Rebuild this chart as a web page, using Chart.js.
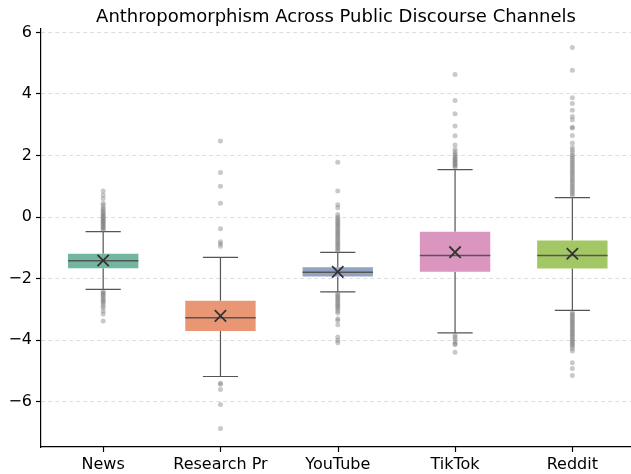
<!DOCTYPE html>
<html>
<head>
<meta charset="utf-8">
<script src="https://cdn.jsdelivr.net/npm/chart.js@4.4.1/dist/chart.umd.min.js"></script>
<style>
    html, body { margin: 0; padding: 0; background: #fff; }
    #wrap { width: 631px; height: 474px; }
</style>
</head>
<body>
<div id="wrap"><canvas id="boxChart"></canvas></div>
<script>
// Box plot summary values
const categories = ['News', 'Research Pr', 'YouTube', 'TikTok', 'Reddit'];
const q1 = [-1.66, -3.70, -1.93, -1.78, -1.67];
const q3 = [-1.19, -2.72, -1.63, -0.48, -0.76];
const medians = [-1.42, -3.27, -1.79, -1.25, -1.25];
const means = [-1.41, -3.21, -1.78, -1.14, -1.19];
const whiskerLow = [-2.35, -5.18, -2.43, -3.76, -3.03];
const whiskerHigh = [-0.47, -1.31, -1.15, 1.54, 0.63];
const yTicks = [-6, -4, -2, 0, 2, 4, 6];

// Outliers per channel
const newsOutliers = [-0.42, -0.38, -0.34, -0.3, -0.26, -0.22, -0.18, -0.14, -0.1, -0.06, -0.02, 0.02, 0.06, 0.1, 0.15, 0.2, 0.25, 0.3, 0.38, 0.45, 0.6, 0.72, 0.85,
    -2.42, -2.46, -2.5, -2.55, -2.6, -2.65, -2.7, -2.75, -2.8, -2.88, -2.95, -3.05, -3.15, -3.38];
const researchOutliers = [2.47, 1.45, 1.0, 0.45, -0.38, -0.8, -0.87, -0.95,
    -5.4, -5.43, -5.6, -6.09, -6.87];
const youtubeOutliers = [-1.1, -1.05, -1.0, -0.95, -0.9, -0.85, -0.8, -0.75, -0.7, -0.65, -0.6, -0.55, -0.5, -0.45, -0.4, -0.35, -0.3, -0.25, -0.2, -0.15, -0.1, -0.05, 0.0, 0.08, 0.3, 0.4, 0.85, 1.78,
    -2.48, -2.53, -2.58, -2.63, -2.68, -2.73, -2.78, -2.83, -2.88, -2.93, -2.98, -3.05, -3.12, -3.3, -3.36, -3.5, -3.9, -4.0, -4.08];
const tiktokOutliers = [1.62, 1.66, 1.7, 1.74, 1.78, 1.82, 1.86, 1.9, 1.95, 2.0, 2.06, 2.12, 2.2, 2.34, 2.64, 2.96, 3.36, 3.79, 4.63,
    -3.83, -3.9, -3.97, -4.05, -4.12, -4.14, -4.39];
const redditOutliers = [0.7, 0.76, 0.82, 0.88, 0.94, 1.0, 1.06, 1.12, 1.18, 1.24, 1.3, 1.36, 1.42, 1.48, 1.54, 1.6, 1.66, 1.72, 1.78, 1.84, 1.9, 1.96, 2.02, 2.1, 2.18, 2.26, 2.41, 2.65, 2.89, 2.92, 3.16, 3.27, 3.47, 3.69, 3.88, 4.77, 5.51,
    -3.1, -3.15, -3.2, -3.25, -3.3, -3.35, -3.4, -3.45, -3.5, -3.55, -3.6, -3.65, -3.7, -3.75, -3.8, -3.85, -3.9, -3.95, -4.0, -4.05, -4.1, -4.15, -4.2, -4.27, -4.35, -4.73, -4.92, -5.15];
const outliers = [newsOutliers, researchOutliers, youtubeOutliers, tiktokOutliers, redditOutliers];

const boxColors = ['#71b6a1', '#e99675', '#95a3c3', '#db96c0', '#a2c764'];
const lineColor = '#555555';

const outlierPoints = [];
outliers.forEach((list, i) => {
    list.forEach(v => outlierPoints.push({ x: i, y: v }));
});

// Whiskers behind the boxes, medians on top of them, category tick marks last
const boxParts = {
    id: 'boxParts',
    beforeDatasetDraw(chart, args) {
        if (args.index !== 2) return;
        const xs = chart.scales.x, ys = chart.scales.y, ctx = chart.ctx;
        const half = (xs.getPixelForValue(1) - xs.getPixelForValue(0)) * 0.15;
        ctx.save();
        ctx.strokeStyle = lineColor;
        ctx.lineWidth = 1.2;
        categories.forEach((c, i) => {
            const px = xs.getPixelForValue(i);
            const hi = ys.getPixelForValue(whiskerHigh[i]);
            const lo = ys.getPixelForValue(whiskerLow[i]);
            ctx.beginPath();
            ctx.moveTo(px, ys.getPixelForValue(q3[i]));
            ctx.lineTo(px, hi);
            ctx.moveTo(px, ys.getPixelForValue(q1[i]));
            ctx.lineTo(px, lo);
            ctx.moveTo(px - half, hi);
            ctx.lineTo(px + half, hi);
            ctx.moveTo(px - half, lo);
            ctx.lineTo(px + half, lo);
            ctx.stroke();
        });
        ctx.restore();
    },
    afterDatasetDraw(chart, args) {
        if (args.index !== 2) return;
        const xs = chart.scales.x, ys = chart.scales.y, ctx = chart.ctx;
        const half = (xs.getPixelForValue(1) - xs.getPixelForValue(0)) * 0.3;
        ctx.save();
        ctx.strokeStyle = lineColor;
        ctx.lineWidth = 1.5;
        categories.forEach((c, i) => {
            const px = xs.getPixelForValue(i);
            const py = ys.getPixelForValue(medians[i]);
            ctx.beginPath();
            ctx.moveTo(px - half, py);
            ctx.lineTo(px + half, py);
            ctx.stroke();
        });
        ctx.restore();
    },
    afterDraw(chart) {
        const xs = chart.scales.x, ctx = chart.ctx;
        const base = chart.chartArea.bottom;
        ctx.save();
        ctx.strokeStyle = '#000';
        ctx.lineWidth = 1.2;
        categories.forEach((c, i) => {
            const px = Math.round(xs.getPixelForValue(i)) + 0.5;
            ctx.beginPath();
            ctx.moveTo(px, base);
            ctx.lineTo(px, base + 5);
            ctx.stroke();
        });
        ctx.restore();
    }
};

const ctx = document.getElementById('boxChart').getContext('2d');
new Chart(ctx, {
    type: 'bar',
    data: {
        datasets: [
            {
                type: 'scatter',
                label: 'Mean',
                data: means.map((v, i) => ({ x: i, y: v })),
                pointStyle: 'crossRot',
                pointRadius: 8,
                pointBorderWidth: 1.8,
                borderColor: '#333333',
                backgroundColor: '#333333'
            },
            {
                type: 'scatter',
                label: 'Outliers',
                data: outlierPoints,
                pointRadius: 2.5,
                pointBorderWidth: 0,
                backgroundColor: 'rgba(119,119,119,0.4)',
                borderColor: 'rgba(0,0,0,0)'
            },
            {
                label: 'IQR',
                data: q1.map((v, i) => ({ x: i, y: [v, q3[i]] })),
                backgroundColor: boxColors,
                borderWidth: 0,
                borderSkipped: false,
                categoryPercentage: 1,
                barPercentage: 0.6
            }
        ]
    },
    plugins: [boxParts],
    options: {
        responsive: true,
        maintainAspectRatio: false,
        animation: false,
        layout: { autoPadding: false, padding: { left: 10, right: 0, top: 0, bottom: 0 } },
        plugins: {
            legend: { display: false },
            tooltip: { enabled: false },
            title: {
                display: true,
                text: 'Anthropomorphism Across Public Discourse Channels',
                fullSize: false,
                color: '#000',
                font: { family: 'DejaVu Sans', size: 18, weight: 'normal' },
                padding: { top: 7, bottom: 0.4 }
            }
        },
        scales: {
            x: {
                type: 'linear',
                min: -0.53,
                max: 4.5,
                offset: false,
                afterBuildTicks: scale => { scale.ticks = categories.map((c, i) => ({ value: i })); },
                grid: {
                    display: true, offset: false, drawOnChartArea: false, drawTicks: true,
                    tickLength: 5, tickColor: 'rgba(0,0,0,0)', color: 'rgba(0,0,0,0)'
                },
                border: { display: true, color: '#000', width: 1.2 },
                ticks: {
                    color: '#000',
                    padding: 3,
                    font: { family: 'DejaVu Sans', size: 16 },
                    callback: v => categories[v]
                },
                afterFit: scale => {
                    scale.height = 27;
                    scale.paddingLeft = 0;
                    scale.paddingRight = 0;
                }
            },
            y: {
                min: -7.47,
                max: 6.11,
                afterBuildTicks: scale => { scale.ticks = yTicks.map(v => ({ value: v })); },
                grid: { color: '#dddddd', lineWidth: 1, tickColor: '#000', tickLength: 5, tickWidth: 1.2, tickBorderDash: [] },
                border: { display: true, color: '#000', width: 1.2, dash: [4, 3] },
                ticks: {
                    color: '#000',
                    padding: 4,
                    font: { family: 'DejaVu Sans', size: 16 },
                    callback: v => String(v).replace('-', '\u2212')
                },
                afterFit: scale => {
                    scale.width = 31;
                    scale.paddingTop = 0;
                    scale.paddingBottom = 0;
                }
            }
        }
    }
});
</script>
</body>
</html>
